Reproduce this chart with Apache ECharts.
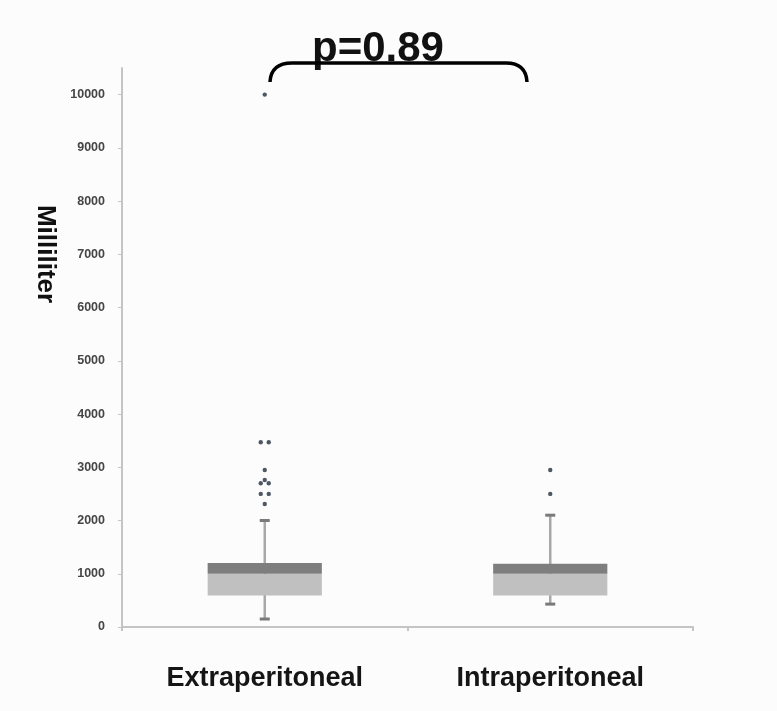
<!DOCTYPE html>
<html>
<head>
<meta charset="utf-8">
<script src="https://cdn.jsdelivr.net/npm/echarts@6/dist/echarts.min.js"></script>
<style>
  html, body { margin: 0; padding: 0; background: #fcfcfc; }
  #chart { width: 777px; height: 711px; }
</style>
</head>
<body>
<div id="chart"></div>
<script>
// Drain volume by placement group
const categories = ['Extraperitoneal', 'Intraperitoneal'];
const whiskerLow  = [150, 430];
const quartile1   = [590, 590];
const medians     = [1000, 1000];
const quartile3   = [1200, 1190];
const whiskerHigh = [2000, 2100];
const outliersExtra = [10000, 3470, 3470, 2950, 2760, 2700, 2700, 2500, 2500, 2310];
const outliersIntra = [2950, 2500];
const yTicks = [0, 1000, 2000, 3000, 4000, 5000, 6000, 7000, 8000, 9000, 10000];
const pValueText = 'p=0.89';

const boxData = categories.map((c, i) =>
  [i, whiskerLow[i], quartile1[i], medians[i], quartile3[i], whiskerHigh[i]]);

// identical outlier values are shown side by side
function outlierRows(values, catIndex) {
  const rows = [];
  const counts = {};
  values.forEach(v => { counts[v] = (counts[v] || 0) + 1; });
  const seen = {};
  values.forEach(v => {
    seen[v] = (seen[v] || 0);
    rows.push([catIndex, v, seen[v], counts[v]]);
    seen[v]++;
  });
  return rows;
}
const outlierData = outlierRows(outliersExtra, 0).concat(outlierRows(outliersIntra, 1));

const chart = echarts.init(document.getElementById('chart'));

function renderBox(params, api) {
  const x = api.value(0);
  const lo = api.coord([x, api.value(1)]);
  const q1 = api.coord([x, api.value(2)]);
  const med = api.coord([x, api.value(3)]);
  const q3 = api.coord([x, api.value(4)]);
  const hi = api.coord([x, api.value(5)]);
  const bandW = api.size([1, 0])[0];
  const w = bandW * 0.4;
  const cx = lo[0];
  return {
    type: 'group',
    children: [
      { type: 'line', shape: { x1: cx, y1: lo[1], x2: cx, y2: hi[1] },
        style: { stroke: '#a8a8a8', lineWidth: 2.5 } },
      { type: 'line', shape: { x1: cx - 5, y1: hi[1], x2: cx + 5, y2: hi[1] },
        style: { stroke: '#7a7a7a', lineWidth: 3 } },
      { type: 'line', shape: { x1: cx - 5, y1: lo[1], x2: cx + 5, y2: lo[1] },
        style: { stroke: '#7a7a7a', lineWidth: 3 } },
      { type: 'rect', shape: { x: cx - w / 2, y: med[1], width: w, height: q1[1] - med[1] },
        style: { fill: '#c0c0c0' } },
      { type: 'rect', shape: { x: cx - w / 2, y: q3[1], width: w, height: med[1] - q3[1] },
        style: { fill: '#7e7e7e' } }
    ]
  };
}

function renderOutlier(params, api) {
  const x = api.value(0);
  const p = api.coord([x, api.value(1)]);
  const rank = api.value(2);
  const count = api.value(3);
  const dx = (rank - (count - 1) / 2) * 8;
  return {
    type: 'circle',
    shape: { cx: p[0] + dx, cy: p[1], r: 2.2 },
    style: { fill: '#4d5864' }
  };
}

const braceStyle = { stroke: '#000', lineWidth: 3.5, fill: null };

chart.setOption({
  backgroundColor: '#fcfcfc',
  animation: false,
  grid: { left: 122, right: 84, top: 68, bottom: 84 },
  xAxis: {
    type: 'category',
    data: categories,
    axisLine: { lineStyle: { color: '#c4c4c4', width: 2 } },
    axisTick: { show: true, length: 4, lineStyle: { color: '#c4c4c4', width: 2 } },
    axisLabel: {
      margin: 38,
      fontFamily: 'Liberation Sans, Arial, sans-serif',
      fontWeight: 'bold',
      fontSize: 27,
      color: '#151515'
    }
  },
  yAxis: {
    type: 'value',
    min: 0,
    max: 10500,
    interval: 1000,
    splitLine: { show: false },
    axisLine: { show: true, lineStyle: { color: '#c4c4c4', width: 2 } },
    axisTick: { show: true, length: 4, customValues: yTicks, lineStyle: { color: '#c4c4c4', width: 1 } },
    axisLabel: {
      customValues: yTicks,
      formatter: v => String(v),
      margin: 17,
      fontFamily: 'Liberation Sans, Arial, sans-serif',
      fontWeight: 'bold',
      fontSize: 12.5,
      color: '#454545'
    }
  },
  series: [
    {
      type: 'custom',
      renderItem: renderBox,
      data: boxData,
      encode: { x: 0, y: [1, 2, 3, 4, 5] },
      z: 2
    },
    {
      type: 'custom',
      renderItem: renderOutlier,
      data: outlierData,
      encode: { x: 0, y: 1 },
      z: 3
    }
  ],
  graphic: [
    {
      type: 'text',
      x: 45, y: 254,
      rotation: -Math.PI / 2,
      style: {
        text: 'Milliliter',
        fontFamily: 'Liberation Sans, Arial, sans-serif',
        fontWeight: 'bold',
        fontSize: 26,
        fill: '#111',
        align: 'center',
        verticalAlign: 'middle'
      }
    },
    {
      type: 'text',
      x: 378, y: 49,
      style: {
        text: pValueText,
        fontFamily: 'Liberation Sans, Arial, sans-serif',
        fontWeight: 'bold',
        fontSize: 42,
        fill: '#111',
        align: 'center',
        verticalAlign: 'middle'
      }
    },
    {
      type: 'bezierCurve',
      shape: { x1: 270, y1: 82, cpx1: 271, cpy1: 63, x2: 292, y2: 63 },
      style: braceStyle
    },
    {
      type: 'line',
      shape: { x1: 292, y1: 63, x2: 506, y2: 63 },
      style: braceStyle
    },
    {
      type: 'bezierCurve',
      shape: { x1: 506, y1: 63, cpx1: 526, cpy1: 63, x2: 527, y2: 82 },
      style: braceStyle
    }
  ]
});
</script>
</body>
</html>
